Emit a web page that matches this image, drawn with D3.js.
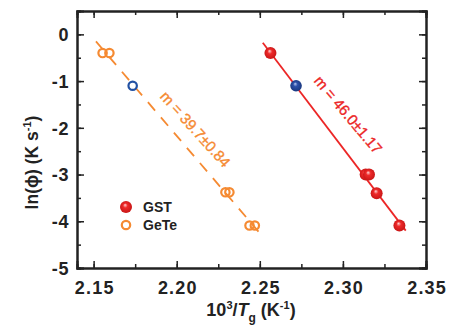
<!DOCTYPE html>
<html>
<head>
<meta charset="utf-8">
<script src="https://cdn.jsdelivr.net/npm/d3@7"></script>
<style>
  body { margin: 0; background: #fff; }
  svg text { font-family: "Liberation Sans", Arial, sans-serif; }
</style>
</head>
<body>
<div id="chart"></div>
<script>
// measured points
const gstX = [2.2564, 2.3137, 2.3157, 2.3203, 2.334];
const gstY = [-0.40, -3.0, -3.0, -3.40, -4.09];
const geteX = [2.1554, 2.1595, 2.2293, 2.2317, 2.2438, 2.247];
const geteY = [-0.40, -0.40, -3.38, -3.38, -4.09, -4.09];
const blueX = [2.1735, 2.2718];
const blueY = [-1.10, -1.10];

// fitted lines (end points)
const gstFitX = [2.2518, 2.3378];
const gstFitY = [-0.18, -4.20];
const geteFitX = [2.1514, 2.2492];
const geteFitY = [-0.15, -4.22];

const xTicks = [2.15, 2.20, 2.25, 2.30, 2.35];
const yTicks = [0, -1, -2, -3, -4, -5];

const W = 452, H = 327;
const pLeft = 77, pRight = 426, pTop = 11, pBottom = 268;

const x = d3.scaleLinear().domain([2.14, 2.35]).range([pLeft, pRight]);
const y = d3.scaleLinear().domain([-5, 0.5]).range([pBottom, pTop]);

const svg = d3.create('svg').attr('width', W).attr('height', H);

const defs = svg.append('defs');
function ball(id, light, mid, dark) {
  const g = defs.append('radialGradient').attr('id', id)
    .attr('cx', '50%').attr('cy', '50%').attr('r', '55%')
    .attr('fx', '42%').attr('fy', '32%');
  g.append('stop').attr('offset', '0%').attr('stop-color', light);
  g.append('stop').attr('offset', '35%').attr('stop-color', mid);
  g.append('stop').attr('offset', '100%').attr('stop-color', dark);
}
ball('redBall', '#ffd6d6', '#ee2a2a', '#c41414');
ball('blueBall', '#b9c8f0', '#2c50a8', '#18357a');

const frame = '#222';

// minor ticks
const xMinor = d3.range(2.15, 2.351, 0.025);
const yMinor = d3.range(-5, 0.51, 0.5);

const axes = svg.append('g');
axes.append('g').attr('transform', `translate(0,${pBottom})`)
  .call(d3.axisBottom(x).tickValues(xMinor).tickSize(-4).tickFormat(''));
axes.append('g').attr('transform', `translate(0,${pTop})`)
  .call(d3.axisTop(x).tickValues(xMinor).tickSize(-4).tickFormat(''));
axes.append('g').attr('transform', `translate(${pLeft},0)`)
  .call(d3.axisLeft(y).tickValues(yMinor).tickSize(-4).tickFormat(''));
axes.append('g').attr('transform', `translate(${pRight},0)`)
  .call(d3.axisRight(y).tickValues(yMinor).tickSize(-4).tickFormat(''));

// major ticks with labels
axes.append('g').attr('class', 'xaxis').attr('transform', `translate(0,${pBottom})`)
  .call(d3.axisBottom(x).tickValues(xTicks).tickSize(-7).tickPadding(13)
    .tickFormat(d3.format('.2f')));
axes.append('g').attr('transform', `translate(0,${pTop})`)
  .call(d3.axisTop(x).tickValues(xTicks).tickSize(-7).tickFormat(''));
axes.append('g').attr('class', 'yaxis').attr('transform', `translate(${pLeft},0)`)
  .call(d3.axisLeft(y).tickValues(yTicks).tickSize(-7).tickPadding(8)
    .tickFormat(d => d === 0 ? '0' : '-' + Math.abs(d)));
axes.append('g').attr('transform', `translate(${pRight},0)`)
  .call(d3.axisRight(y).tickValues(yTicks).tickSize(-7).tickFormat(''));

axes.selectAll('.domain').attr('stroke', frame).attr('stroke-width', 2);
axes.selectAll('.tick line').attr('stroke', frame).attr('stroke-width', 1.5);
axes.selectAll('.tick text')
  .attr('font-size', 18).attr('font-weight', 'bold').attr('fill', frame)
  .attr('font-family', '"Liberation Sans", Arial, sans-serif');
axes.selectAll('.xaxis .tick text').attr('dy', '0.71em').attr('letter-spacing', 1.2)
  .attr('dx', 0.6);
axes.selectAll('.yaxis .tick text').attr('dy', '0.35em').attr('letter-spacing', 0.6);

// axis titles
svg.append('text')
  .attr('transform', `translate(38,${(pTop + pBottom) / 2 + 23}) rotate(-90)`)
  .attr('text-anchor', 'middle').attr('font-size', 17.5).attr('font-weight', 'bold')
  .attr('fill', frame)
  .call(t => {
    t.append('tspan').text('ln(ϕ) (K s');
    t.append('tspan').text('-1').attr('font-size', 11).attr('dy', -7);
    t.append('tspan').text(')').attr('dy', 7);
  });

svg.append('text')
  .attr('x', 251).attr('y', 316)
  .attr('text-anchor', 'middle').attr('font-size', 18).attr('font-weight', 'bold')
  .attr('fill', frame)
  .call(t => {
    t.append('tspan').text('10');
    t.append('tspan').text('3').attr('font-size', 11).attr('dy', -7);
    t.append('tspan').text('/').attr('dy', 7);
    t.append('tspan').text('T').attr('font-style', 'italic');
    t.append('tspan').text('g').attr('font-size', 12).attr('dy', 6);
    t.append('tspan').text(' (K').attr('dy', -6);
    t.append('tspan').text('-1').attr('font-size', 11).attr('dy', -7);
    t.append('tspan').text(')').attr('dy', 7);
  });

// fit lines
const line = d3.line().x(d => x(d[0])).y(d => y(d[1]));
svg.append('path')
  .attr('d', line(d3.zip(geteFitX, geteFitY)))
  .attr('stroke', '#f58a32').attr('stroke-width', 1.8).attr('fill', 'none')
  .attr('stroke-dasharray', '11,9');
svg.append('path')
  .attr('d', line(d3.zip(gstFitX, gstFitY)))
  .attr('stroke', '#ec2626').attr('stroke-width', 1.8).attr('fill', 'none');

// GeTe points (open)
svg.append('g').selectAll('circle')
  .data(d3.zip(geteX, geteY)).join('circle')
  .attr('cx', d => x(d[0])).attr('cy', d => y(d[1])).attr('r', 4.2)
  .attr('fill', 'none').attr('stroke', '#f58a32').attr('stroke-width', 2.2);

// GST points (filled spheres)
svg.append('g').selectAll('circle')
  .data(d3.zip(gstX, gstY)).join('circle')
  .attr('cx', d => x(d[0])).attr('cy', d => y(d[1])).attr('r', 6)
  .attr('fill', 'url(#redBall)');

// blue points: open on GeTe line, filled on GST line
svg.append('circle')
  .attr('cx', x(blueX[0])).attr('cy', y(blueY[0])).attr('r', 4.2)
  .attr('fill', '#fff').attr('stroke', '#2251a3').attr('stroke-width', 2.2);
svg.append('circle')
  .attr('cx', x(blueX[1])).attr('cy', y(blueY[1])).attr('r', 5.8)
  .attr('fill', 'url(#blueBall)');

// slope annotations
svg.append('text')
  .attr('transform', `translate(${x(2.2112)},${y(-2.03)}) rotate(48)`)
  .attr('text-anchor', 'middle').attr('dy', '0.35em')
  .attr('font-size', 15).attr('fill', '#f58a32')
  .attr('stroke', '#f58a32').attr('stroke-width', 0.35)
  .text('m = 39.7±0.84');
svg.append('text')
  .attr('transform', `translate(${x(2.3032)},${y(-1.72)}) rotate(50)`)
  .attr('text-anchor', 'middle').attr('dy', '0.35em')
  .attr('font-size', 15).attr('fill', '#ec2626')
  .attr('stroke', '#ec2626').attr('stroke-width', 0.35)
  .text('m = 46.0±1.17');

// legend
const legend = svg.append('g');
legend.append('circle').attr('cx', 126).attr('cy', 207).attr('r', 6).attr('fill', 'url(#redBall)');
legend.append('circle').attr('cx', 126).attr('cy', 225).attr('r', 4.2)
  .attr('fill', 'none').attr('stroke', '#f58a32').attr('stroke-width', 2.2);
legend.append('text').attr('x', 143).attr('y', 212).attr('font-size', 14)
  .attr('font-weight', 'bold').attr('fill', frame).text('GST');
legend.append('text').attr('x', 143).attr('y', 230).attr('font-size', 14)
  .attr('font-weight', 'bold').attr('fill', frame).text('GeTe');

d3.select('#chart').node().appendChild(svg.node());
</script>
</body>
</html>
